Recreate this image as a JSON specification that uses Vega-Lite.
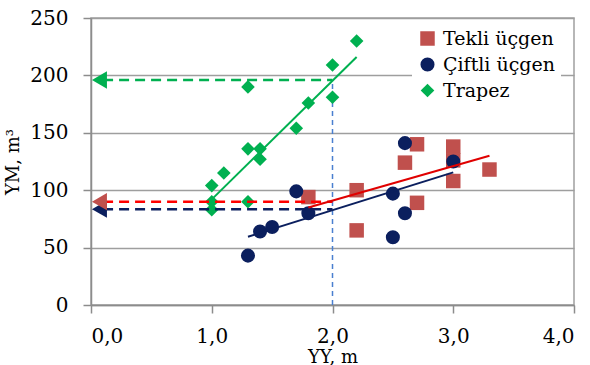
{
  "$schema": "https://vega.github.io/schema/vega-lite/v6.json",
  "width": 483,
  "height": 287,
  "autosize": {"type": "none"},
  "padding": {"left": 91, "top": 18, "right": 16, "bottom": 60},
  "background": "white",
  "config": {
    "view": {"stroke": "#a0a0a0", "strokeWidth": 1.5},
    "font": "DejaVu Serif",
    "axis": {
      "labelFont": "DejaVu Serif", "labelFontSize": 20, "labelColor": "#000",
      "titleFont": "DejaVu Serif", "titleFontSize": 18, "titleFontWeight": "normal", "titleColor": "#000",
      "domainColor": "#8c8c8c", "domainWidth": 1.5, "tickColor": "#8c8c8c", "tickWidth": 1.5, "tickSize": 8,
      "gridColor": "#9e9e9e", "gridWidth": 1.5
    },
    "legend": {
      "labelFont": "DejaVu Serif", "labelFontSize": 19, "labelColor": "#000"
    }
  },
  "datasets": {
    "points": [
      {"series": "Tekli üçgen", "x": 1.8, "y": 94},
      {"series": "Tekli üçgen", "x": 2.2, "y": 100},
      {"series": "Tekli üçgen", "x": 2.2, "y": 65},
      {"series": "Tekli üçgen", "x": 2.6, "y": 124},
      {"series": "Tekli üçgen", "x": 2.7, "y": 140},
      {"series": "Tekli üçgen", "x": 2.7, "y": 89},
      {"series": "Tekli üçgen", "x": 3.0, "y": 138},
      {"series": "Tekli üçgen", "x": 3.0, "y": 126},
      {"series": "Tekli üçgen", "x": 3.0, "y": 108},
      {"series": "Tekli üçgen", "x": 3.3, "y": 118},
      {"series": "Çiftli üçgen", "x": 1.3, "y": 43},
      {"series": "Çiftli üçgen", "x": 1.4, "y": 64},
      {"series": "Çiftli üçgen", "x": 1.5, "y": 68},
      {"series": "Çiftli üçgen", "x": 1.7, "y": 99},
      {"series": "Çiftli üçgen", "x": 1.8, "y": 80},
      {"series": "Çiftli üçgen", "x": 2.5, "y": 97},
      {"series": "Çiftli üçgen", "x": 2.5, "y": 59},
      {"series": "Çiftli üçgen", "x": 2.6, "y": 141},
      {"series": "Çiftli üçgen", "x": 2.6, "y": 80},
      {"series": "Çiftli üçgen", "x": 3.0, "y": 125},
      {"series": "Trapez", "x": 1.0, "y": 104},
      {"series": "Trapez", "x": 1.0, "y": 90},
      {"series": "Trapez", "x": 1.0, "y": 83},
      {"series": "Trapez", "x": 1.1, "y": 115},
      {"series": "Trapez", "x": 1.3, "y": 90},
      {"series": "Trapez", "x": 1.3, "y": 190},
      {"series": "Trapez", "x": 1.3, "y": 136},
      {"series": "Trapez", "x": 1.4, "y": 136},
      {"series": "Trapez", "x": 1.4, "y": 127},
      {"series": "Trapez", "x": 1.7, "y": 154},
      {"series": "Trapez", "x": 1.8, "y": 176},
      {"series": "Trapez", "x": 2.0, "y": 209},
      {"series": "Trapez", "x": 2.0, "y": 181},
      {"series": "Trapez", "x": 2.2, "y": 230}
    ],
    "trends": [
      {"series": "Tekli üçgen", "x": 1.8, "y": 85},
      {"series": "Tekli üçgen", "x": 3.3, "y": 130},
      {"series": "Çiftli üçgen", "x": 1.3, "y": 59.5},
      {"series": "Çiftli üçgen", "x": 3.0, "y": 115.5},
      {"series": "Trapez", "x": 1.0, "y": 92},
      {"series": "Trapez", "x": 2.2, "y": 216}
    ],
    "guides": [
      {"series": "Tekli üçgen", "x": 0.1, "y": 90},
      {"series": "Tekli üçgen", "x": 2.0, "y": 90},
      {"series": "Çiftli üçgen", "x": 0.1, "y": 83.5},
      {"series": "Çiftli üçgen", "x": 2.0, "y": 83.5},
      {"series": "Trapez", "x": 0.1, "y": 196},
      {"series": "Trapez", "x": 2.0, "y": 196}
    ],
    "arrows": [
      {"series": "Çiftli üçgen", "x": 0.07, "y": 83.5},
      {"series": "Tekli üçgen", "x": 0.07, "y": 90},
      {"series": "Trapez", "x": 0.07, "y": 196}
    ],
    "vline": [
      {"x": 2.0, "y": 0},
      {"x": 2.0, "y": 196}
    ]
  },
  "encoding": {
    "x": {
      "field": "x", "type": "quantitative",
      "scale": {"domain": [0, 4], "nice": false},
      "axis": {"values": [0, 1, 2, 3, 4], "grid": false, "title": "YY, m", "labelPadding": 13, "titlePadding": 2,
               "labelExpr": "replace(format(datum.value, '.1f'), '.', ',')"}
    },
    "y": {
      "field": "y", "type": "quantitative",
      "scale": {"domain": [0, 250], "nice": false},
      "axis": {"values": [0, 50, 100, 150, 200, 250], "grid": true, "title": "YM, m³", "labelPadding": 15, "titlePadding": 7}
    }
  },
  "layer": [
    {
      "data": {"name": "vline"},
      "mark": {"type": "line", "color": "#4a7fd0", "strokeWidth": 1.5, "strokeDash": [5, 4]},
      "encoding": {}
    },
    {
      "data": {"name": "points"},
      "mark": {"type": "point", "filled": true, "opacity": 1},
      "encoding": {
        "color": {"field": "series", "type": "nominal",
          "scale": {"domain": ["Tekli üçgen", "Çiftli üçgen", "Trapez"], "range": ["#c0504d", "#0b1f5e", "#00b050"]},
          "legend": {"title": null, "orient": "none", "legendX": 321, "legendY": 5, "fillColor": "white",
                     "padding": 6, "symbolSize": 210, "rowPadding": 6, "labelOffset": 6, "symbolOpacity": 1}},
        "shape": {"field": "series", "type": "nominal",
          "scale": {"domain": ["Tekli üçgen", "Çiftli üçgen", "Trapez"], "range": ["square", "circle", "diamond"]},
          "legend": null},
        "size": {"field": "series", "type": "nominal",
          "scale": {"domain": ["Tekli üçgen", "Çiftli üçgen", "Trapez"], "range": [210, 185, 290]},
          "legend": null}
      }
    },
    {
      "data": {"name": "guides"},
      "transform": [{"filter": "datum.series === 'Çiftli üçgen'"}],
      "mark": {"type": "line", "color": "#0b1f5e", "strokeWidth": 2.5, "strokeDash": [10, 6]},
      "encoding": {}
    },
    {
      "data": {"name": "guides"},
      "transform": [{"filter": "datum.series === 'Tekli üçgen'"}],
      "mark": {"type": "line", "color": "#ff0000", "strokeWidth": 2.5, "strokeDash": [10, 6]},
      "encoding": {}
    },
    {
      "data": {"name": "guides"},
      "transform": [{"filter": "datum.series === 'Trapez'"}],
      "mark": {"type": "line", "color": "#00b050", "strokeWidth": 2.5, "strokeDash": [10, 6]},
      "encoding": {}
    },
    {
      "data": {"name": "arrows"},
      "mark": {"type": "point", "shape": "triangle-left", "filled": true, "opacity": 1, "size": 300},
      "encoding": {
        "color": {"field": "series", "type": "nominal", "legend": null}
      }
    },
    {
      "data": {"name": "trends"},
      "transform": [{"filter": "datum.series === 'Tekli üçgen'"}],
      "mark": {"type": "line", "color": "#e00000", "strokeWidth": 2},
      "encoding": {}
    },
    {
      "data": {"name": "trends"},
      "transform": [{"filter": "datum.series === 'Çiftli üçgen'"}],
      "mark": {"type": "line", "color": "#0b1f5e", "strokeWidth": 2},
      "encoding": {}
    },
    {
      "data": {"name": "trends"},
      "transform": [{"filter": "datum.series === 'Trapez'"}],
      "mark": {"type": "line", "color": "#00b050", "strokeWidth": 2},
      "encoding": {}
    }
  ]
}
